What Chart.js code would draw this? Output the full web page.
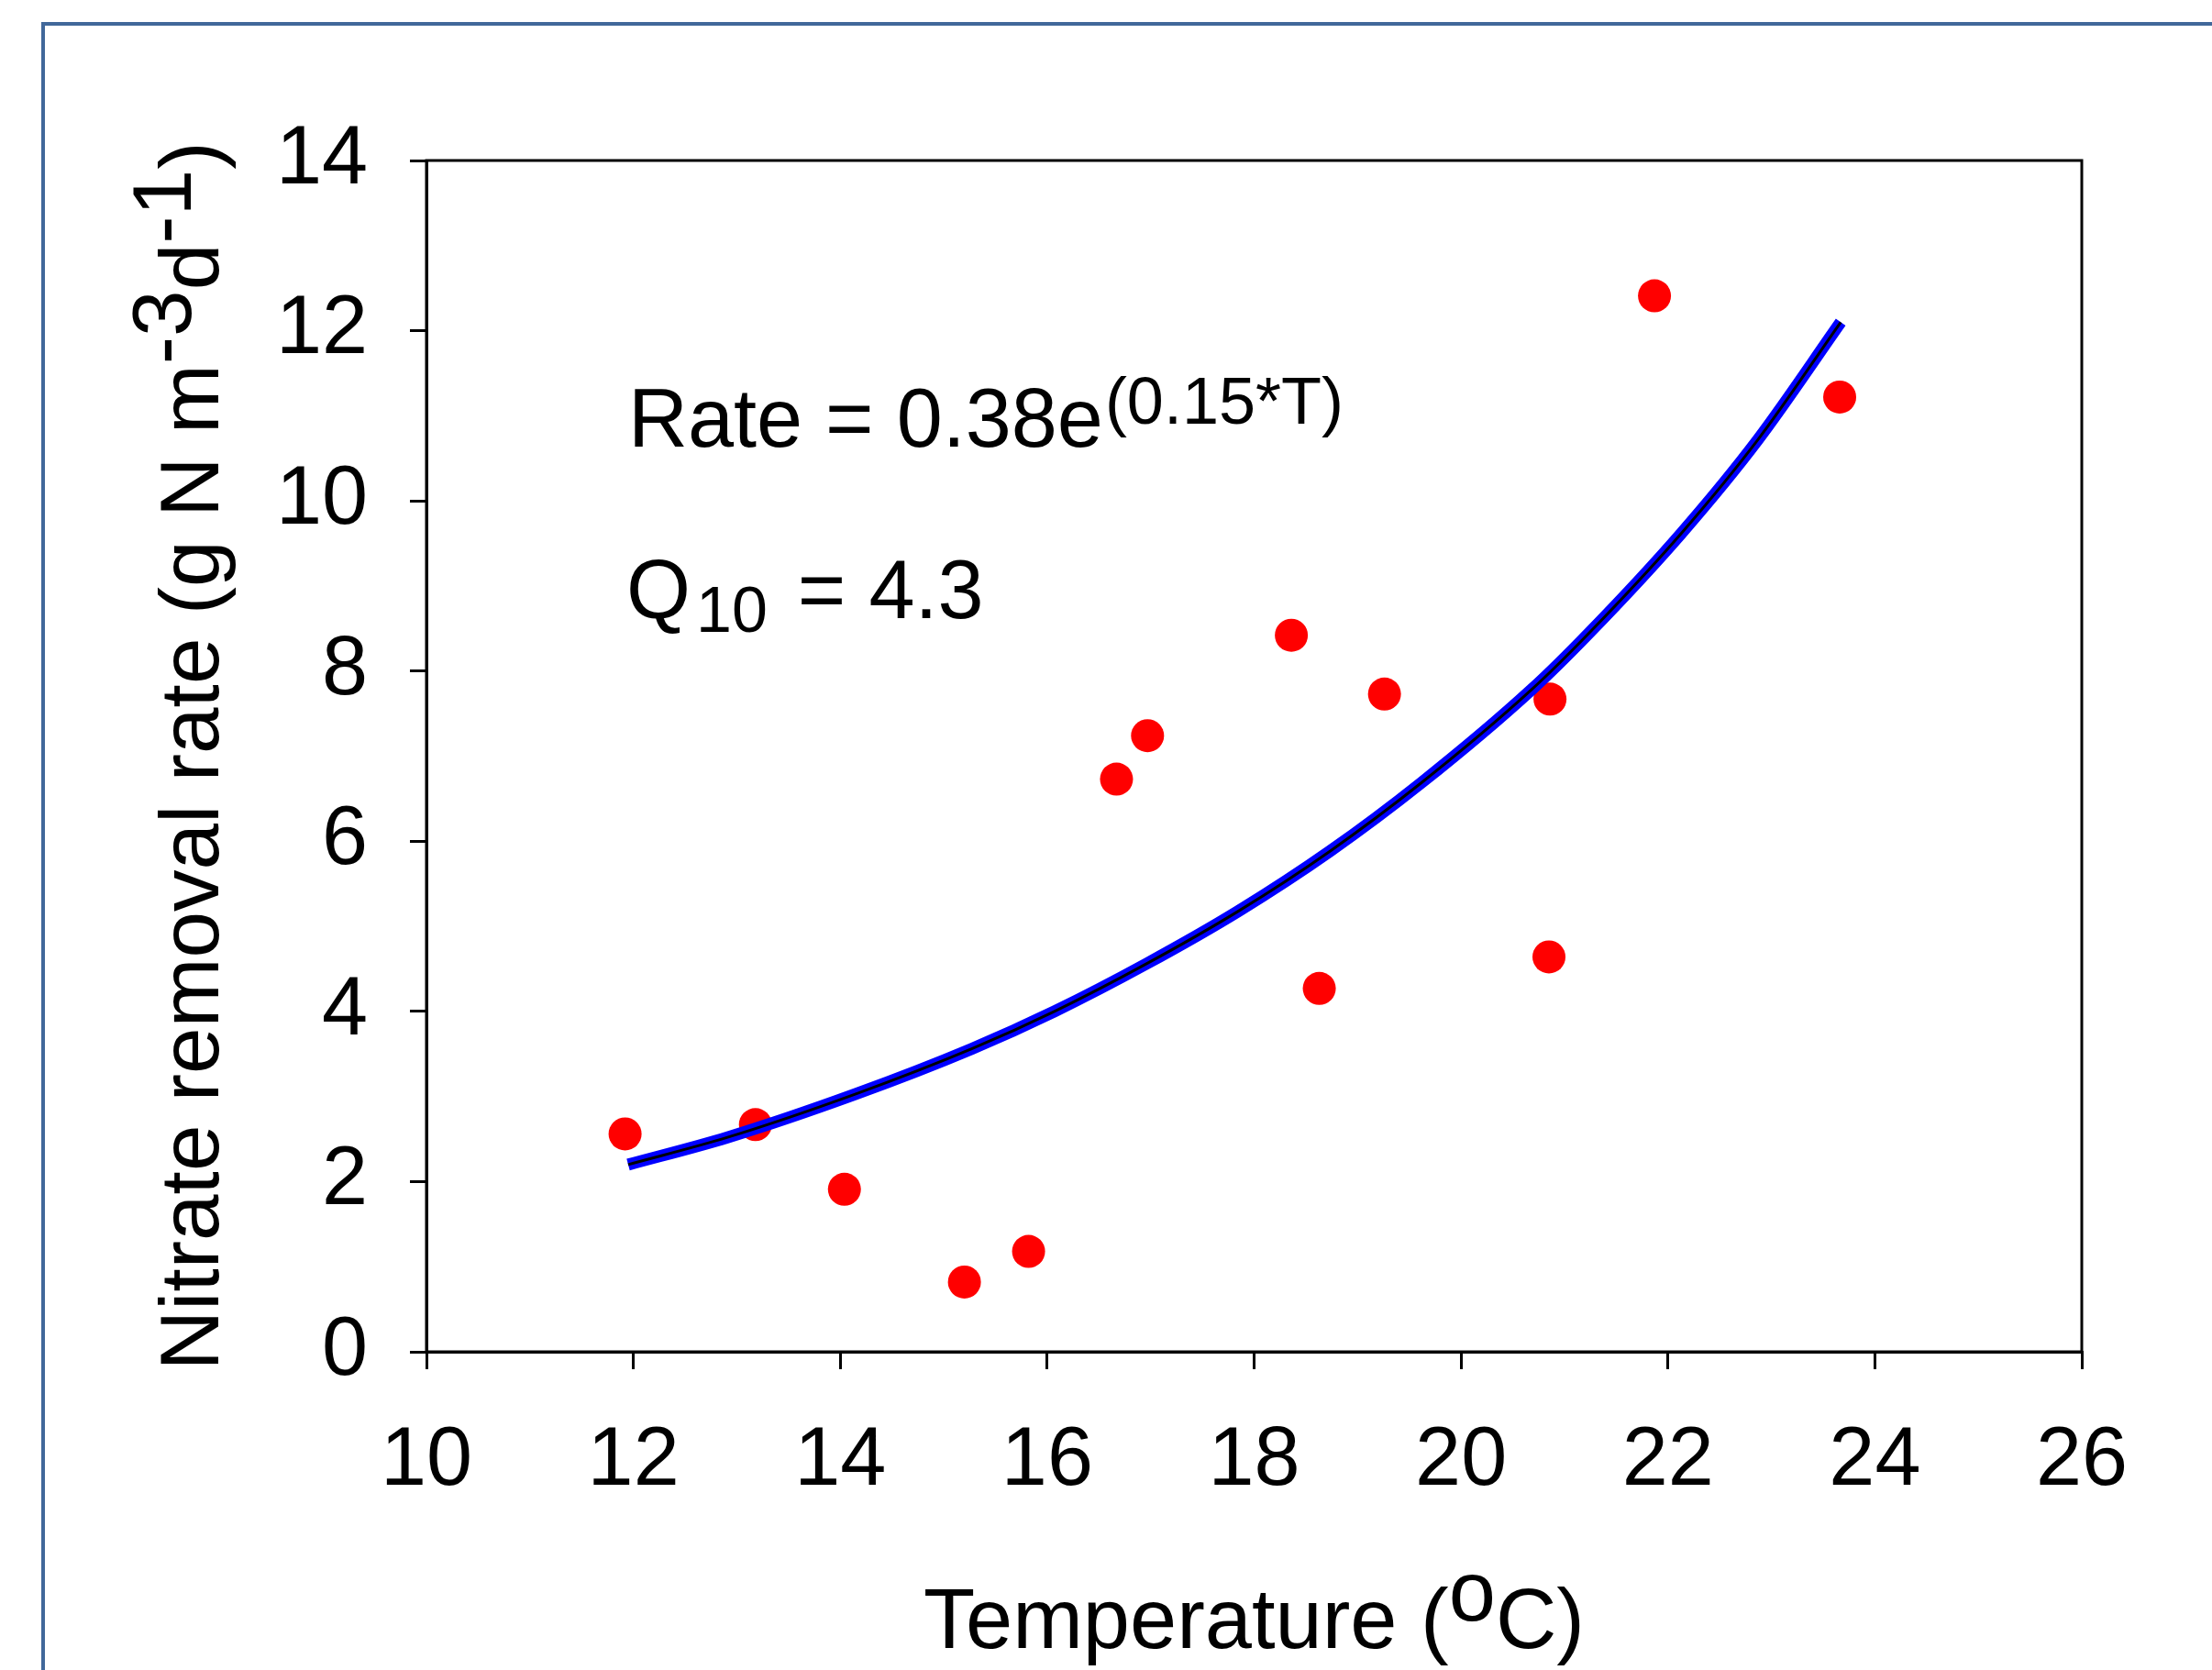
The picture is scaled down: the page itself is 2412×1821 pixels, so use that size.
<!DOCTYPE html>
<html>
<head>
<meta charset="utf-8">
<script src="https://cdn.jsdelivr.net/npm/chart.js@4/dist/chart.umd.min.js"></script>
<style>
  html, body { margin: 0; padding: 0; background: #fff; }
  canvas { display: block; }
</style>
</head>
<body>
<canvas id="q10Chart" width="2412" height="1821"></canvas>
<script>
// measured points: temperature (oC) vs nitrate removal rate
const tempObs = [11.92, 13.18, 14.04, 15.2, 15.82, 16.67, 16.97, 18.36, 18.63, 19.26, 20.86, 20.85, 21.87, 23.66];
const rateObs = [2.56, 2.67, 1.91, 0.82, 1.18, 6.73, 7.24, 8.42, 4.27, 7.73, 7.67, 4.64, 12.41, 11.22];

// fitted curve
const tempFit = [11.95, 12.91, 14.15, 15.27, 16.07, 16.96, 17.85, 18.73, 19.62, 20.68, 21.24, 22.13, 22.87, 23.67];
const rateFit = [2.2, 2.52, 3.03, 3.56, 4.0, 4.56, 5.18, 5.88, 6.69, 7.78, 8.45, 9.62, 10.72, 12.1];

const xTicks = [10, 12, 14, 16, 18, 20, 22, 24, 26];
const yTicks = [0, 2, 4, 6, 8, 10, 12, 14];

const FONT = "'Liberation Sans', Arial, sans-serif";

const toXY = (xs, ys) => xs.map((x, i) => ({ x: x, y: ys[i] }));

// draws a run of text pieces; pieces may be raised (sup) or lowered (sub)
function drawRuns(ctx, runs, x, y) {
  let cx = x;
  runs.forEach((r) => {
    cx += r.dx || 0;
    ctx.font = r.size + "px " + FONT;
    ctx.fillText(r.t, cx, y - (r.dy || 0));
    cx += ctx.measureText(r.t).width;
  });
  return cx;
}
function runsWidth(ctx, runs) {
  let w = 0;
  runs.forEach((r) => {
    ctx.font = r.size + "px " + FONT;
    w += ctx.measureText(r.t).width + (r.dx || 0);
  });
  return w;
}

const decor = {
  id: "decor",
  beforeDraw(chart) {
    const ctx = chart.ctx;
    ctx.save();
    ctx.fillStyle = "#fff";
    ctx.fillRect(0, 0, chart.width, chart.height);
    // outer frame (cut off right and bottom)
    ctx.strokeStyle = "#41689a";
    ctx.lineWidth = 4;
    ctx.beginPath();
    ctx.moveTo(47, chart.height + 5);
    ctx.lineTo(47, 26);
    ctx.lineTo(chart.width + 5, 26);
    ctx.stroke();
    ctx.restore();
  },
  afterDraw(chart) {
    const ctx = chart.ctx;
    const a = chart.chartArea;
    ctx.save();
    ctx.strokeStyle = "#000";
    ctx.lineWidth = 3;
    ctx.strokeRect(a.left, a.top, a.right - a.left, a.bottom - a.top);

    ctx.fillStyle = "#000";
    ctx.textBaseline = "alphabetic";
    ctx.textAlign = "left";

    // equation and Q10
    drawRuns(ctx, [
      { t: "Rate = 0.38e", size: 90 },
      { t: "(0.15*T)", size: 72, dy: 25, dx: 2 },
    ], 685, 487);
    drawRuns(ctx, [
      { t: "Q", size: 90 },
      { t: "10", size: 70, dy: -15, dx: 6 },
      { t: " = 4.3", size: 90, dx: 8 },
    ], 683, 674);

    // x axis title
    const xRuns = [
      { t: "Temperature (", size: 92 },
      { t: "o", size: 92, dy: 30 },
      { t: "C)", size: 92 },
    ];
    const xw = runsWidth(ctx, xRuns);
    drawRuns(ctx, xRuns, (a.left + a.right) / 2 - xw / 2, 1797);

    // y axis title, rotated
    const yRuns = [
      { t: "Nitrate removal rate (g N m", size: 91 },
      { t: "-3", size: 91, dy: 30 },
      { t: "d", size: 91 },
      { t: "-1", size: 91, dy: 30 },
      { t: ")", size: 91 },
    ];
    const yw = runsWidth(ctx, yRuns);
    ctx.translate(238, (a.top + a.bottom) / 2);
    ctx.rotate(-Math.PI / 2);
    drawRuns(ctx, yRuns, -yw / 2, 0);
    ctx.restore();
  },
};

new Chart(document.getElementById("q10Chart").getContext("2d"), {
  type: "scatter",
  data: {
    datasets: [
      {
        label: "fit core",
        data: toXY(tempFit, rateFit),
        showLine: true,
        borderColor: "#000",
        borderWidth: 3,
        pointRadius: 0,
        cubicInterpolationMode: "monotone",
        order: 0,
      },
      {
        label: "fit",
        data: toXY(tempFit, rateFit),
        showLine: true,
        borderColor: "#0000ff",
        borderWidth: 13,
        pointRadius: 0,
        cubicInterpolationMode: "monotone",
        order: 1,
      },
      {
        label: "observed",
        data: toXY(tempObs, rateObs),
        backgroundColor: "#ff0000",
        borderWidth: 0,
        pointRadius: 18,
        order: 2,
      },
    ],
  },
  options: {
    responsive: false,
    devicePixelRatio: 1,
    animation: false,
    events: [],
    layout: { padding: { left: 0, top: 175, right: 142, bottom: 0 } },
    plugins: {
      legend: { display: false },
      tooltip: { enabled: false },
    },
    scales: {
      x: {
        type: "linear",
        min: xTicks[0],
        max: xTicks[xTicks.length - 1],
        afterBuildTicks: (s) => { s.ticks = xTicks.map((v) => ({ value: v })); },
        afterFit: (s) => { s.height = 347; },
        grid: { drawOnChartArea: false, color: "#000", lineWidth: 3, tickLength: 19 },
        border: { color: "#000", width: 3 },
        ticks: { color: "#000", font: { family: FONT, size: 90 }, padding: 47, maxRotation: 0 },
      },
      y: {
        type: "linear",
        min: yTicks[0],
        max: yTicks[yTicks.length - 1],
        afterBuildTicks: (s) => { s.ticks = yTicks.map((v) => ({ value: v })); },
        afterFit: (s) => { s.width = 465; },
        grid: { drawOnChartArea: false, color: "#000", lineWidth: 3, tickLength: 18 },
        border: { color: "#000", width: 3 },
        ticks: { color: "#000", font: { family: FONT, size: 90 }, padding: 46 },
      },
    },
  },
  plugins: [decor],
});
</script>
</body>
</html>
